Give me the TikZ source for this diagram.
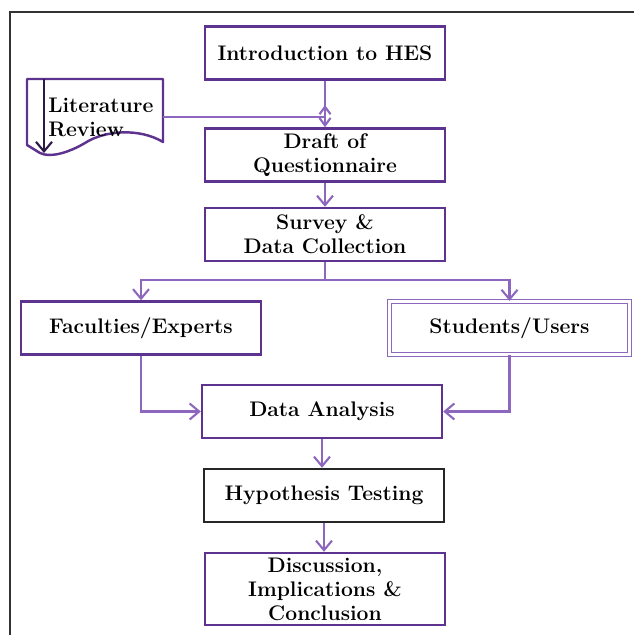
\documentclass[tikz,border=0pt]{standalone}
\usetikzlibrary{arrows.meta}
\definecolor{boxpurple}{HTML}{5E3390}
\definecolor{darkpurple}{HTML}{2E1A47}
\definecolor{linepurple}{HTML}{8D67BE}
\definecolor{framegray}{HTML}{333333}

\begin{document}
\begin{tikzpicture}[
    x=0.02cm, y=-0.02cm,
    every node/.style={align=center},
    stepbox/.style={rectangle, draw=boxpurple, line width=1.4pt,
                    minimum width=4.8cm, minimum height=1.06cm,
                    inner sep=2pt, font=\fontsize{12}{13.6}\selectfont\bfseries},
    darkbox/.style={stepbox, draw=black!85},
    dblbox/.style={stepbox, draw=linepurple, double=white,
                   double distance=1.3pt, line width=0.7pt},
    link/.style={draw=linepurple, line width=1.2pt},
    arr/.style={link, -{Straight Barb[length=1.9mm, width=3.2mm]}},
    smallarr/.style={link, -{Straight Barb[length=1.5mm, width=2.2mm]}}
  ]
  \useasboundingbox (0,0) rectangle (634,635);
  % frame
  \draw[framegray, line width=0.8pt] (634,12) -- (10,12) -- (10,635);

  \node[stepbox] (intro) at (325,53) {Introduction to HES};
  \node[stepbox] (draft) at (325,155) {Draft of\\Questionnaire};
  \node[stepbox] (survey) at (325,234.5) {Survey \&\\Data Collection};
  \node[stepbox] (fac) at (141,328) {Faculties/Experts};
  \node[dblbox] (stu) at (509.5,328) {Students/Users};
  \node[stepbox] (da) at (322,411.5) {Data Analysis};
  \node[darkbox] (ht) at (324,495.5) {Hypothesis Testing};
  \node[stepbox, minimum height=1.44cm] (disc) at (325,589)
    {Discussion,\\Implications \&\\Conclusion};

  % literature review document
  \draw[boxpurple, line width=1.4pt, line join=round]
    (27,79) -- (163,79) -- (163,142)
    .. controls (140,128) and (105,130) .. (85,143)
    .. controls (68,153) and (50,158) .. (40,153)
    -- (27,145) -- cycle;
  \draw[darkpurple, line width=1.2pt,
        -{Straight Barb[length=1.9mm, width=3.2mm]}] (44,79) -- (44,153);
  \node[anchor=west, align=left, inner sep=0pt,
        font=\fontsize{12}{13.6}\selectfont\bfseries] (lit) at (48,117)
    {Literature\\Review};
  \coordinate (join) at (325,117);
  \coordinate (up) at (325,105);
  \coordinate (split) at (325,280);

  \draw[smallarr] (intro.south) -- (draft.north);
  \draw[link] (163,117) -- (join);
  \draw[smallarr] (join) -- (up);
  \draw[arr] (draft.south) -- (survey.north);
  \draw[link] (survey.south) -- (split);
  \draw[arr] (split) -| (fac.north);
  \draw[arr] (split) -| (stu.north);
  \draw[arr] (fac.south) |- (da.west);
  \draw[arr] (stu.south) |- (da.east);
  \draw[arr] (da.south) -- (da.south |- ht.north);
  \draw[arr] (ht.south) -- (ht.south |- disc.north);
\end{tikzpicture}
\end{document}
